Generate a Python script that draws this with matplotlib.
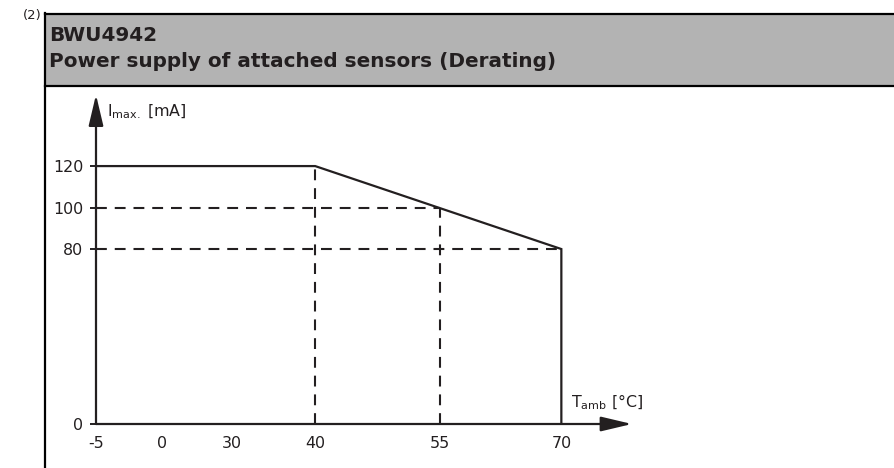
import numpy as np
import matplotlib
matplotlib.use("Agg")
import matplotlib.pyplot as plt
from matplotlib.patches import Rectangle
from matplotlib.lines import Line2D

plt.rcParams['font.family'] = ['DejaVu Sans']
plt.rcParams['mathtext.default'] = 'regular'

# Derating curve: ambient temperature (°C) vs max. current (mA)
temp_curve = [-5, 40, 70, 70]
imax_curve = [120, 120, 80, 0]

# Guide points marked with dashed lines
guide_temp = [40, 55, 70]
guide_imax = [120, 100, 80]

xtick_vals = [-5, 0, 30, 40, 55, 70]
ytick_vals = [0, 80, 100, 120]

title_1 = "BWU4942"
title_2 = "Power supply of attached sensors (Derating)"

ink = '#231f20'
W, H = 894, 468

# the drawing has a broken (non-linear) axis -> piecewise linear scales
x_knots = [-5, 0, 30, 40, 55, 70, 80]
x_pix = [0, 66, 136, 219, 344, 465, 547]
y_knots = [0, 80, 100, 120, 160]
y_pix = [0, 175, 216, 258, 342]


def fx(v):
    return np.interp(v, x_knots, x_pix)


def fx_inv(p):
    return np.interp(p, x_pix, x_knots)


def fy(v):
    return np.interp(v, y_knots, y_pix)


def fy_inv(p):
    return np.interp(p, y_pix, y_knots)


fig = plt.figure(figsize=(W / 100, H / 100), dpi=100)

# frame with gray header
def px(x, y):
    return x / W, 1 - y / H

hx, hy = px(45, 86)
fig.patches.append(Rectangle((hx, hy), 1.2, 72 / H, transform=fig.transFigure,
                             facecolor='#b3b3b3', edgecolor='none', zorder=0))
for (x0, y0, x1, y1) in [(45, 14, 900, 14), (45, 86, 900, 86), (45, 13, 45, 470)]:
    a, b = px(x0, y0)
    c, d = px(x1, y1)
    fig.add_artist(Line2D([a, c], [b, d], transform=fig.transFigure,
                          color='black', lw=1.6))

fig.text(*px(23, 16), "(2)", fontsize=9.5, va='center', ha='left', color=ink)
fig.text(*px(49, 41), title_1, fontsize=14.4, fontweight='bold', va='baseline', color=ink)
fig.text(*px(49, 67), title_2, fontsize=14.4, fontweight='bold', va='baseline', color=ink)

ax = fig.add_axes([96 / W, 44 / H, (627 - 96) / W, (424 - 97) / H])
ax.set_xscale('function', functions=(fx, fx_inv))
ax.set_yscale('function', functions=(fy, fy_inv))
ax.set_xlim(-5, 78)
ax.set_ylim(0, 152.9)
for s in ax.spines.values():
    s.set_visible(False)
ax.patch.set_visible(False)

# dashed guides
dash = (0, (5.2, 3.8))
for t, i in zip(guide_temp, guide_imax):
    if t != temp_curve[-1]:
        ax.plot([t, t], [0, i], color=ink, lw=1.5, ls=dash, dash_capstyle='butt')
    if i != imax_curve[0]:
        ax.plot([-5, t], [i, i], color=ink, lw=1.5, ls=dash, dash_capstyle='butt')

ax.plot(temp_curve, imax_curve, color=ink, lw=1.6, solid_joinstyle='miter')

# axes with arrow heads
arrow = dict(arrowstyle='-|>,head_length=1.9,head_width=0.45', mutation_scale=10,
             lw=1.6, color=ink, shrinkA=0, shrinkB=0)
ax.annotate('', xy=(78.6, 0), xytext=(-5, 0), arrowprops=arrow, annotation_clip=False)
ax.annotate('', xy=(-5, 154), xytext=(-5, 0), arrowprops=arrow, annotation_clip=False)

ax.set_xticks(xtick_vals)
ax.set_xticklabels([str(v) for v in xtick_vals])
ax.set_xticks([-5], minor=True)
ax.tick_params(axis='x', which='major', length=0, pad=9, labelsize=11.4, colors=ink)
ax.tick_params(axis='x', which='minor', length=3, width=1.4, direction='out', color=ink)
ax.set_yticks(ytick_vals)
ax.set_yticklabels([str(v) for v in ytick_vals])
ax.set_yticks([], minor=True)
ax.tick_params(axis='y', length=4.3, width=1.4, direction='out', pad=5,
               labelsize=11.4, colors=ink)

fig.text(*px(107, 112), r"I$_{max.}$ [mA]", fontsize=11.4, va='center', ha='left', color=ink)
fig.text(*px(571, 402), r"T$_{amb}$ [°C]", fontsize=11.4, va='center', ha='left', color=ink)

fig.savefig("out.png", dpi=100)
